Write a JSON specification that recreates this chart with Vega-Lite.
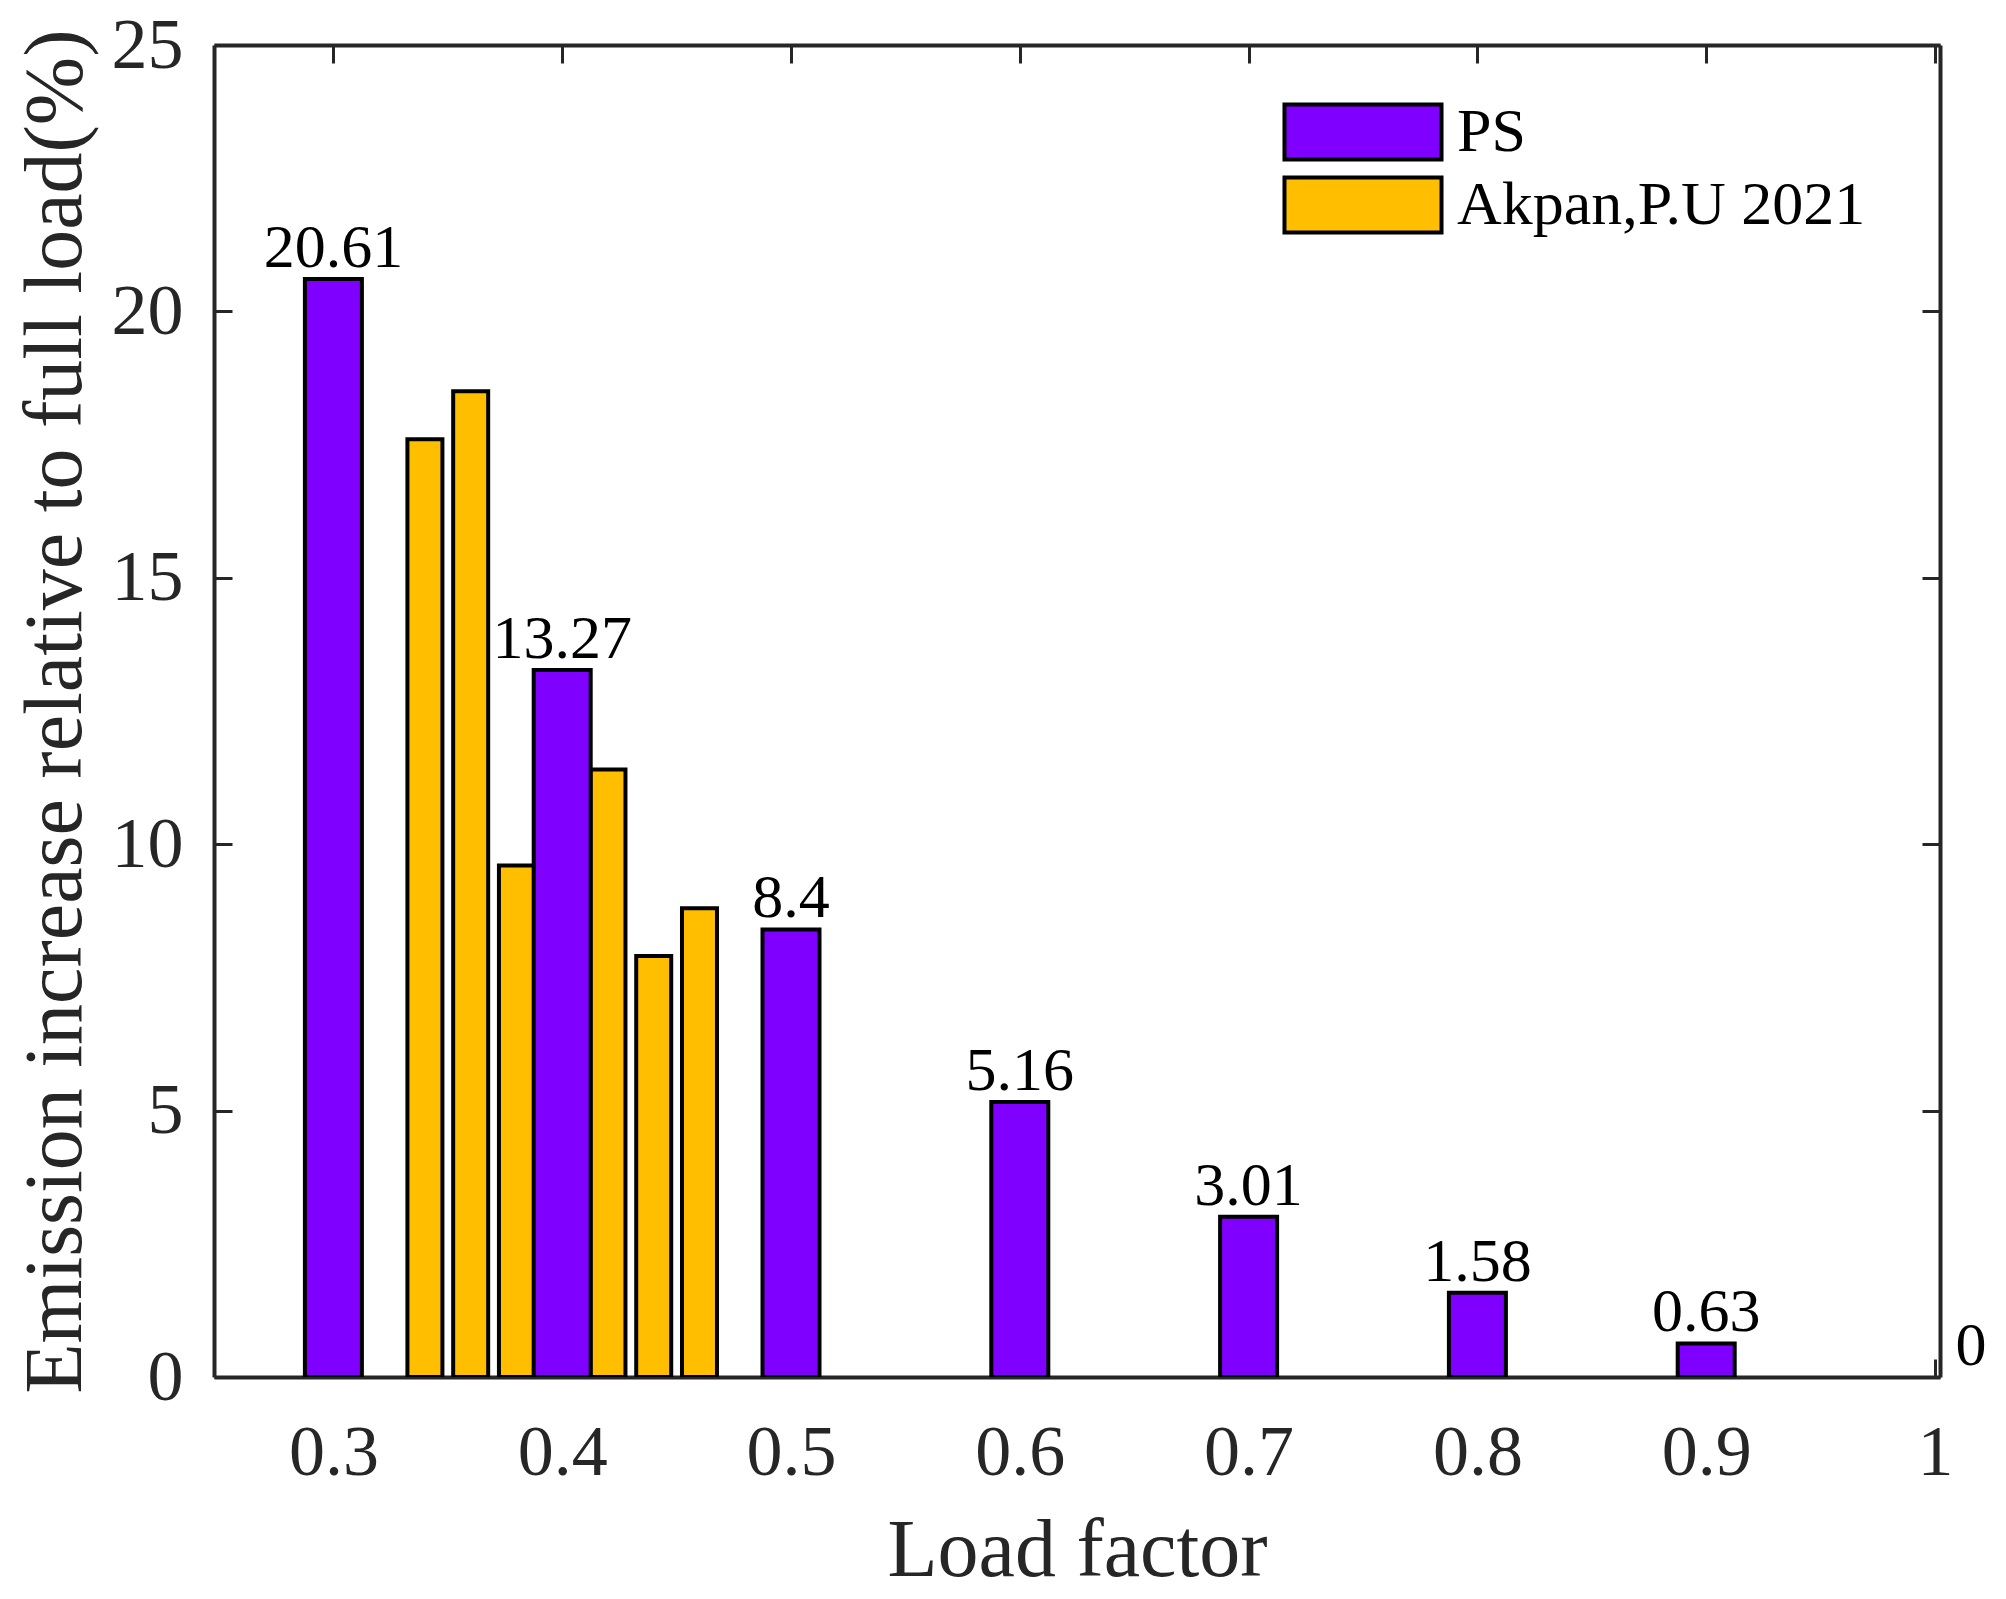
{
  "$schema": "https://vega.github.io/schema/vega-lite/v6.json",
  "width": 1726,
  "height": 1332,
  "autosize": "none",
  "padding": {"left": 214, "top": 45, "right": 66, "bottom": 222},
  "background": "white",
  "config": {
    "view": {"stroke": null},
    "font": "Liberation Serif",
    "axis": {
      "domainColor": "#262626",
      "domainWidth": 4,
      "tickColor": "#262626",
      "tickWidth": 3,
      "tickSize": -18,
      "labelFont": "Liberation Serif",
      "labelFontSize": 72,
      "labelColor": "#262626",
      "labelFlush": false,
      "labelOverlap": false,
      "titleFont": "Liberation Serif",
      "titleFontSize": 82,
      "titleFontWeight": "normal",
      "titleColor": "#262626",
      "grid": false,
      "zindex": 1
    }
  },
  "data": {
    "values": [
      {"series": "Akpan,P.U 2021", "load": 0.34, "emission": 17.6},
      {"series": "Akpan,P.U 2021", "load": 0.36, "emission": 18.5},
      {"series": "Akpan,P.U 2021", "load": 0.38, "emission": 9.6},
      {"series": "Akpan,P.U 2021", "load": 0.42, "emission": 11.4},
      {"series": "Akpan,P.U 2021", "load": 0.44, "emission": 7.9},
      {"series": "Akpan,P.U 2021", "load": 0.46, "emission": 8.8},
      {"series": "PS", "load": 0.3, "emission": 20.61},
      {"series": "PS", "load": 0.4, "emission": 13.27},
      {"series": "PS", "load": 0.5, "emission": 8.4},
      {"series": "PS", "load": 0.6, "emission": 5.16},
      {"series": "PS", "load": 0.7, "emission": 3.01},
      {"series": "PS", "load": 0.8, "emission": 1.58},
      {"series": "PS", "load": 0.9, "emission": 0.63},
      {"series": "PS", "load": 1.0, "emission": 0}
    ]
  },
  "layer": [
    {
      "transform": [{"filter": "datum.series === 'Akpan,P.U 2021'"}],
      "mark": {"type": "bar", "width": 35, "stroke": "black", "strokeWidth": 4, "clip": true, "opacity": 1},
      "encoding": {
        "x": {
          "field": "load",
          "type": "quantitative",
          "scale": {"domain": [0.25, 1], "nice": false, "zero": false},
          "axis": {
            "orient": "bottom",
            "values": [0.3, 0.4, 0.5, 0.6, 0.7, 0.8, 0.9, 1],
            "format": "~g",
            "title": "Load factor",
            "labelPadding": 58,
            "titlePadding": 22
          }
        },
        "y": {
          "field": "emission",
          "type": "quantitative",
          "scale": {"domain": [0, 25], "nice": false},
          "axis": {
            "orient": "left",
            "values": [0, 5, 10, 15, 20, 25],
            "title": "Emission increase relative to full load(%)",
            "labelPadding": 49,
            "titlePadding": 14
          }
        },
        "color": {
          "field": "series",
          "type": "nominal",
          "sort": ["PS", "Akpan,P.U 2021"],
          "scale": {"domain": ["PS", "Akpan,P.U 2021"], "range": ["#8000FF", "#FFBF00"]},
          "legend": {
            "title": null,
            "orient": "none",
            "legendX": 1118,
            "legendY": 56,
            "padding": 0,
            "symbolType": "M-2.855,-1H2.855V1H-2.855Z",
            "symbolSize": 3025,
            "symbolStrokeColor": "black",
            "symbolStrokeWidth": 4,
            "symbolOpacity": 1,
            "labelFont": "Liberation Serif",
            "labelFontSize": 62,
            "labelColor": "black",
            "labelOffset": 63,
            "labelLimit": 0,
            "rowPadding": 1
          }
        }
      }
    },
    {
      "transform": [{"filter": "datum.series === 'PS' && datum.emission > 0"}],
      "mark": {"type": "bar", "width": 57, "stroke": "black", "strokeWidth": 4, "clip": true, "opacity": 1},
      "encoding": {
        "x": {"field": "load", "type": "quantitative", "scale": {"domain": [0.25, 1], "nice": false, "zero": false}, "axis": null},
        "y": {"field": "emission", "type": "quantitative", "scale": {"domain": [0, 25], "nice": false}, "axis": null},
        "color": {
          "field": "series",
          "type": "nominal",
          "sort": ["PS", "Akpan,P.U 2021"],
          "scale": {"domain": ["PS", "Akpan,P.U 2021"], "range": ["#8000FF", "#FFBF00"]}
        }
      }
    },
    {
      "transform": [{"filter": "datum.series === 'PS' && datum.emission > 0"}],
      "mark": {"type": "text", "font": "Liberation Serif", "fontSize": 62, "color": "black", "baseline": "alphabetic", "align": "center", "dy": -12},
      "encoding": {
        "x": {
          "field": "load",
          "type": "quantitative",
          "scale": {"domain": [0.25, 1], "nice": false, "zero": false},
          "axis": {
            "orient": "top",
            "values": [0.3, 0.4, 0.5, 0.6, 0.7, 0.8, 0.9, 1],
            "labels": false,
            "title": null
          }
        },
        "y": {
          "field": "emission",
          "type": "quantitative",
          "scale": {"domain": [0, 25], "nice": false},
          "axis": {
            "orient": "right",
            "values": [0, 5, 10, 15, 20, 25],
            "labels": false,
            "title": null
          }
        },
        "text": {"field": "emission", "type": "quantitative", "format": "~g"}
      }
    },
    {
      "transform": [{"filter": "datum.series === 'PS' && datum.emission === 0"}],
      "mark": {"type": "text", "font": "Liberation Serif", "fontSize": 62, "color": "black", "baseline": "alphabetic", "align": "center", "dx": 36, "dy": -12},
      "encoding": {
        "x": {"field": "load", "type": "quantitative", "scale": {"domain": [0.25, 1], "nice": false, "zero": false}, "axis": null},
        "y": {"field": "emission", "type": "quantitative", "scale": {"domain": [0, 25], "nice": false}, "axis": null},
        "text": {"field": "emission", "type": "quantitative", "format": "~g"}
      }
    }
  ],
  "resolve": {"axis": {"x": "independent", "y": "independent"}}
}
